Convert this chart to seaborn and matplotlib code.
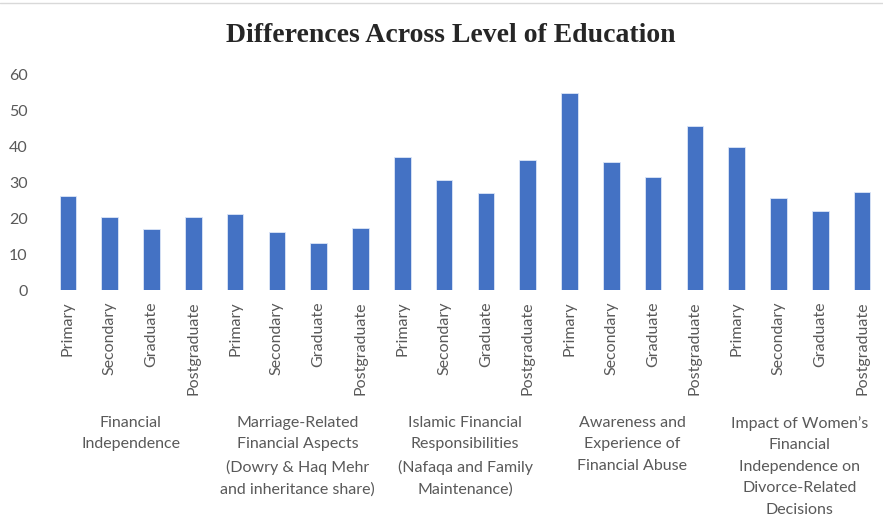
import pandas as pd
import matplotlib.pyplot as plt
import seaborn as sns
from matplotlib.lines import Line2D
from matplotlib import transforms

# -----------------------------
# data
groups = [
    'Financial\nIndependence',
    'Marriage-Related\nFinancial Aspects\n(Dowry & Haq Mehr\nand inheritance share)',
    'Islamic Financial\nResponsibilities\n(Nafaqa and Family\nMaintenance)',
    'Awareness and\nExperience of\nFinancial Abuse',
    'Impact of Women\u2019s\nFinancial\nIndependence on\nDivorce-Related\nDecisions',
]
levels = ['Primary', 'Secondary', 'Graduate', 'Postgraduate']
values = [
    26, 20.2, 16.9, 20.2,
    21, 16, 13.1, 17.2,
    36.9, 30.6, 26.9, 36,
    54.8, 35.6, 31.4, 45.6,
    39.8, 25.6, 21.9, 27.3,
]

rows = []
for gi, g in enumerate(groups):
    for li, lv in enumerate(levels):
        rows.append({'key': f'{gi}_{lv}', 'group': g, 'level': lv,
                     'value': values[gi * len(levels) + li]})
df = pd.DataFrame(rows)

sns.set_style('white')
plt.rcParams['font.family'] = ['Lato', 'DejaVu Sans']
grey = '#595959'
fs = 11.5

fig = plt.figure(figsize=(8.83, 5.21), dpi=100)
ax = fig.add_axes([47 / 883, 1 - 290 / 521, 836 / 883, 216 / 521])

sns.barplot(data=df, x='key', y='value', color='#4472C4', saturation=1,
            width=0.4, edgecolor='#dce6f7', linewidth=0.6, ax=ax)

ax.set_xlim(-0.5, len(df) - 0.5)
ax.set_ylim(0, 60)
ax.set_yticks(range(0, 61, 10))
ax.set_xticks(range(len(df)))
ax.set_xticklabels(df['level'], rotation=90, va='top', ha='center')
ax.tick_params(axis='x', length=0, pad=8, labelsize=fs, labelcolor=grey)
ax.tick_params(axis='y', length=0, pad=14, labelsize=fs, labelcolor=grey)
ax.set_xlabel('')
ax.set_ylabel('')
sns.despine(ax=ax, left=True, bottom=True)

# group labels under each block of four bars
trans = transforms.blended_transform_factory(ax.transData, fig.transFigure)
for gi, g in enumerate(groups):
    center = gi * len(levels) + (len(levels) - 1) / 2
    ax.text(center, 1 - 416 / 521, g, transform=trans, ha='center', va='top',
            fontsize=fs, color=grey, linespacing=1.68, multialignment='center')

fig.text(0.51, 1 - 35 / 521, 'Differences Across Level of Education',
         ha='center', va='center', fontsize=20, fontweight='bold',
         family='Liberation Serif')

fig.add_artist(Line2D([0, 1], [1 - 3 / 521, 1 - 3 / 521], color='#d9d9d9',
                      lw=1, transform=fig.transFigure))

fig.savefig('out.png', dpi=100)
plt.close()
